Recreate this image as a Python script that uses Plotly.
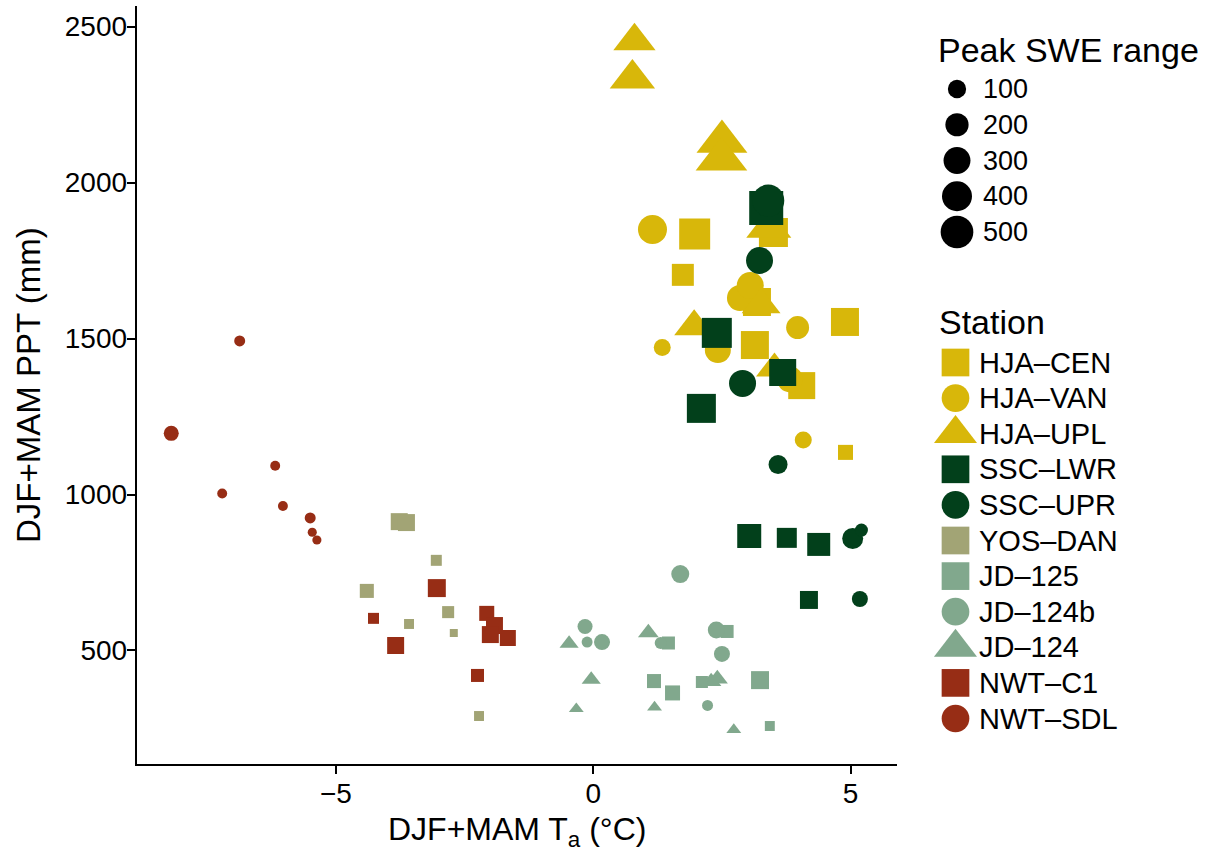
import numpy as np
import plotly.graph_objects as go

W, H = 1209, 852

# ---------------- data ----------------
stations = ["HJA-CEN", "HJA-VAN", "HJA-UPL", "SSC-LWR", "SSC-UPR", "YOS-DAN",
            "JD-125", "JD-124b", "JD-124", "NWT-C1", "NWT-SDL"]
station_colors = ["#D8B70A", "#D8B70A", "#D8B70A", "#02401B", "#02401B", "#A2A475",
                  "#81A88D", "#81A88D", "#81A88D", "#972D15", "#972D15"]
station_symbols = ["square", "circle", "triangle-up", "square", "circle", "square",
                   "square", "circle", "triangle-up", "square", "circle"]

# DJF+MAM air temperature (°C), DJF+MAM precipitation (mm), peak SWE range (mm)
hja_cen_ta = [1.97, 3.50, 1.74, 3.18, 3.14, 4.89, 4.05, 4.90]
hja_cen_ppt = [1835, 1840, 1704, 1617, 1479, 1553, 1349, 1135]
hja_cen_swe = [435, 366, 171, 333, 333, 333, 302, 55]

hja_van_ta = [1.15, 1.34, 2.42, 2.85, 3.05, 3.97, 4.08, 3.82]
hja_van_ppt = [1849, 1471, 1463, 1630, 1670, 1535, 1175, 1369]
hja_van_swe = [366, 80, 273, 273, 302, 194, 80, 273]

hja_upl_ta = [0.80, 0.76, 2.50, 2.49, 3.41, 1.96, 3.52, 3.26]
hja_upl_ppt = [2453, 2333, 2131, 2074, 1854, 1538, 1404, 1608]
hja_upl_swe = [308, 372, 500, 519, 366, 264, 211, 245]

ssc_lwr_ta = [3.36, 2.40, 3.68, 2.10, 3.03, 3.76, 4.38, 4.19]
ssc_lwr_ppt = [1918, 1518, 1391, 1276, 867, 861, 840, 662]
ssc_lwr_swe = [552, 400, 302, 366, 219, 130, 194, 95]

ssc_upr_ta = [3.40, 3.23, 2.90, 3.59, 5.04, 5.21, 5.18]
ssc_upr_ppt = [1942, 1750, 1356, 1096, 859, 886, 665]
ssc_upr_swe = [473, 302, 302, 112, 150, 36, 67]

yos_dan_ta = [-3.77, -3.63, -3.05, -4.40, -2.82, -3.58, -2.71, -2.22]
yos_dan_ppt = [913, 910, 789, 691, 623, 585, 556, 290]
yos_dan_swe = [80, 80, 23, 45, 29, 19, 16, 19]

jd_125_ta = [1.18, 1.54, 2.11, 3.24, 3.43, 1.46, 2.60]
jd_125_ppt = [402, 364, 399, 405, 258, 524, 561]
jd_125_swe = [45, 55, 29, 95, 19, 36, 36]

jd_124b_ta = [1.69, -0.16, -0.12, 0.17, 1.31, 2.39, 2.50, 2.22]
jd_124b_ppt = [745, 577, 527, 527, 524, 566, 489, 324]
jd_124b_swe = [95, 55, 23, 67, 29, 80, 67, 23]

jd_124_ta = [-0.47, -0.04, -0.33, 1.07, 1.19, 2.29, 2.41, 2.73]
jd_124_ppt = [522, 407, 313, 557, 318, 400, 409, 246]
jd_124_swe = [31, 31, 18, 39, 18, 37, 41, 18]

nwt_c1_ta = [-3.04, -4.27, -3.84, -2.07, -1.92, -2.00, -1.66, -2.25]
nwt_c1_ppt = [700, 603, 516, 619, 580, 551, 540, 420]
nwt_c1_swe = [95, 23, 80, 55, 80, 80, 67, 36]

nwt_sdl_ta = [-6.87, -8.20, -6.18, -7.21, -6.03, -5.50, -5.46, -5.37]
nwt_sdl_ppt = [1492, 1196, 1092, 1003, 963, 925, 879, 854]
nwt_sdl_swe = [23, 55, 19, 19, 19, 23, 17, 17]

swe_breaks = [100, 200, 300, 400, 500]
x_ticks = [-5, 0, 5]
y_ticks = [500, 1000, 1500, 2000, 2500]

series = {
    "HJA-CEN": (hja_cen_ta, hja_cen_ppt, hja_cen_swe),
    "HJA-VAN": (hja_van_ta, hja_van_ppt, hja_van_swe),
    "HJA-UPL": (hja_upl_ta, hja_upl_ppt, hja_upl_swe),
    "SSC-LWR": (ssc_lwr_ta, ssc_lwr_ppt, ssc_lwr_swe),
    "SSC-UPR": (ssc_upr_ta, ssc_upr_ppt, ssc_upr_swe),
    "YOS-DAN": (yos_dan_ta, yos_dan_ppt, yos_dan_swe),
    "JD-125": (jd_125_ta, jd_125_ppt, jd_125_swe),
    "JD-124b": (jd_124b_ta, jd_124b_ppt, jd_124b_swe),
    "JD-124": (jd_124_ta, jd_124_ppt, jd_124_swe),
    "NWT-C1": (nwt_c1_ta, nwt_c1_ppt, nwt_c1_swe),
    "NWT-SDL": (nwt_sdl_ta, nwt_sdl_ppt, nwt_sdl_swe),
}

# ---------------- size scale (area scale, like ggplot scale_size) ----------------
SWE_MIN, SWE_SPAN = 16.0, 536.0
D_MIN, D_SPAN = 8.0, 26.0
TRI_K = 1.347   # plotly triangle is flatter; scale to keep similar area


def diam(v):
    v = np.asarray(v, dtype=float)
    return D_MIN + D_SPAN * np.sqrt(np.clip((v - SWE_MIN) / SWE_SPAN, 0, 1))


def msize(v, sym):
    d = diam(v)
    return d * TRI_K if sym == "triangle-up" else d


FONT = "Liberation Sans, Arial, Helvetica, sans-serif"

# ---------------- layout geometry (px) ----------------
PX_L, PX_R = 136.7, 897.0
PX_T, PX_B = 6.0, 764.0
X_RANGE = [-8.871, 5.901]
Y_RANGE = [136.2, 2565.7]

fig = go.Figure()

for st, col, sym in zip(stations, station_colors, station_symbols):
    xs, ys, sw = series[st]
    fig.add_trace(go.Scatter(
        x=xs, y=ys, mode="markers", name=st,
        marker=dict(symbol=sym, color=col, size=msize(sw, sym),
                    line=dict(width=0), opacity=1),
        xaxis="x", yaxis="y", showlegend=False,
        hovertemplate=st + "<br>T=%{x}<br>PPT=%{y}<extra></extra>",
    ))

# ---------------- custom legends (drawn on a pixel-space helper axis) ----------------
LEG_X0 = 900.0
swe_key_x = 957.0
swe_row0, swe_step = 89.0, 35.75
st_key_x = 955.5
st_row0, st_step = 362.5, 35.6

swe_rows = [swe_row0 + i * swe_step for i in range(len(swe_breaks))]
fig.add_trace(go.Scatter(
    x=[swe_key_x] * len(swe_breaks), y=swe_rows, mode="markers",
    marker=dict(symbol="circle", color="#000000", size=diam(swe_breaks),
                opacity=1, line=dict(width=0)),
    xaxis="x2", yaxis="y2", showlegend=False, hoverinfo="skip"))

st_rows = [st_row0 + i * st_step for i in range(len(stations))]
key_d = 27.7
for st, col, sym, ry in zip(stations, station_colors, station_symbols, st_rows):
    fig.add_trace(go.Scatter(
        x=[st_key_x], y=[ry], mode="markers",
        marker=dict(symbol=sym, color=col,
                    size=key_d * TRI_K if sym == "triangle-up" else key_d,
                    opacity=1, line=dict(width=0)),
        xaxis="x2", yaxis="y2", showlegend=False, hoverinfo="skip"))

annotations = []


def px_ann(text, x, y, size, xanchor="left", yanchor="middle", textangle=0):
    annotations.append(dict(
        text=text, x=x / W, y=1 - y / H, xref="paper", yref="paper",
        xanchor=xanchor, yanchor=yanchor, showarrow=False, textangle=textangle,
        font=dict(family=FONT, size=size, color="black")))


px_ann("Peak SWE range", 936, 50, 34)
for b, ry in zip(swe_breaks, swe_rows):
    px_ann(str(b), 981, ry, 27)

px_ann("Station", 937, 322, 34)
for st, ry in zip(stations, st_rows):
    px_ann(st.replace("-", "\u2013"), 977, ry, 29)

# axis titles
px_ann("DJF+MAM T<sub>a</sub> (°C)", (PX_L + PX_R) / 2, 831, 32, xanchor="center")
px_ann("DJF+MAM PPT (mm)", 28, (PX_T + PX_B) / 2, 33, xanchor="center", textangle=-90)

axis_common = dict(
    showline=True, linecolor="black", linewidth=2, mirror=False,
    ticks="outside", ticklen=8, tickwidth=2, tickcolor="black",
    showgrid=False, zeroline=False,
    tickfont=dict(family=FONT, size=28, color="black"),
)

fig.update_layout(
    width=W, height=H,
    margin=dict(l=0, r=0, t=0, b=0, pad=0),
    paper_bgcolor="white", plot_bgcolor="rgba(0,0,0,0)",
    showlegend=False,
    font=dict(family=FONT, color="black"),
    xaxis=dict(domain=[PX_L / W, PX_R / W], range=X_RANGE, tickvals=x_ticks,
               anchor="y", ticklabelstandoff=-5, **axis_common),
    yaxis=dict(domain=[1 - PX_B / H, 1 - PX_T / H], range=Y_RANGE, tickvals=y_ticks,
               anchor="x", ticklabelstandoff=-6, **axis_common),
    xaxis2=dict(domain=[LEG_X0 / W, 1], range=[LEG_X0, W], visible=False,
                anchor="y2", fixedrange=True),
    yaxis2=dict(domain=[0, 1], range=[H, 0], visible=False,
                anchor="x2", fixedrange=True),
    annotations=annotations,
)

fig.write_html("out.html")
